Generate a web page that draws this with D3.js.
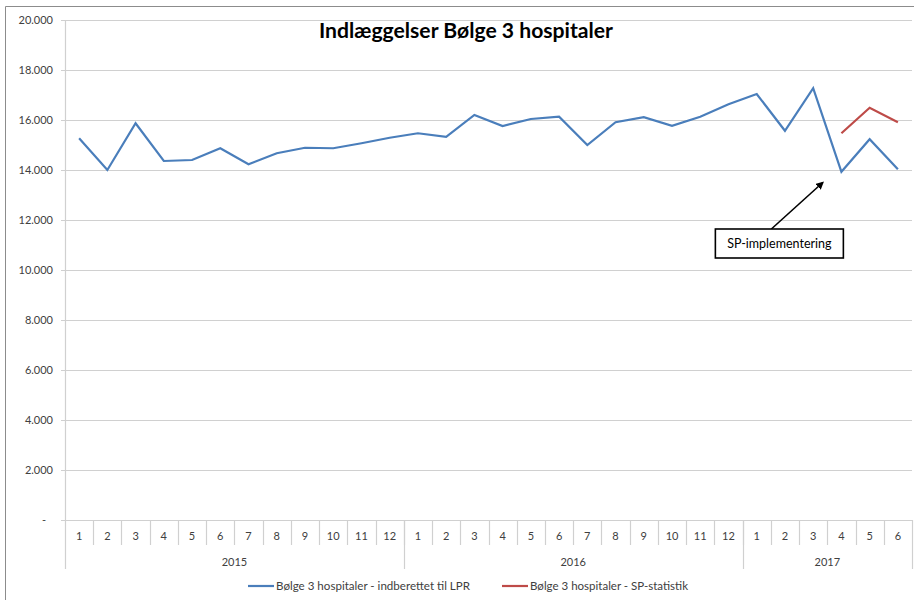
<!DOCTYPE html>
<html>
<head>
<meta charset="utf-8">
<script src="https://cdn.jsdelivr.net/npm/d3@7"></script>
<style>
  body { margin: 0; background: #fff; }
  text { font-family: Lato, "Open Sans", sans-serif; fill: #404040; }
</style>
</head>
<body>
<script>
const title = 'Indlæggelser Bølge 3 hospitaler';

const years = ['2015', '2016', '2017'];
const months = [
  ['1', '2', '3', '4', '5', '6', '7', '8', '9', '10', '11', '12'],
  ['1', '2', '3', '4', '5', '6', '7', '8', '9', '10', '11', '12'],
  ['1', '2', '3', '4', '5', '6']
];

// indberettet til LPR
const lprValues = [
  15270, 14000, 15870, 14360, 14400, 14870, 14230, 14670, 14890, 14870, 15070, 15290,
  15470, 15330, 16200, 15760, 16040, 16130, 15000, 15910, 16110, 15770, 16130, 16630,
  17040, 15570, 17270, 13930, 15230, 14030
];

// SP-statistik (only 2017-4 .. 2017-6)
const spValues = [
  null, null, null, null, null, null, null, null, null, null, null, null,
  null, null, null, null, null, null, null, null, null, null, null, null,
  null, null, null, 15470, 16490, 15910
];

const yTicks = [0, 2000, 4000, 6000, 8000, 10000, 12000, 14000, 16000, 18000, 20000];

const seriesNames = [
  'Bølge 3 hospitaler - indberettet til LPR',
  'Bølge 3 hospitaler - SP-statistik'
];
const seriesColors = ['#4a7ebb', '#be4b48'];

const width = 914;
const height = 600;
const margin = { top: 20, right: 2, bottom: 80, left: 65 };

const svg = d3.select('body').append('svg')
  .attr('width', width)
  .attr('height', height);

// outer chart frame
svg.append('path')
  .attr('d', `M5.5,${height} V6.5 H${width}`)
  .attr('fill', 'none')
  .attr('stroke', '#8c8c8c')
  .attr('stroke-width', 1);

const cats = [];
months.forEach((ms, yi) => ms.forEach((m) => cats.push(`${years[yi]}-${m}`)));

const x = d3.scaleBand()
  .domain(cats)
  .range([margin.left, width - margin.right]);

const y = d3.scaleLinear()
  .domain([0, 20000])
  .range([height - margin.bottom, margin.top]);

const fmt = (v) => (v === 0 ? '-' : d3.format(',')(v).replace(/,/g, '.'));

// grid
svg.append('g')
  .selectAll('line')
  .data(yTicks)
  .enter().append('line')
    .attr('x1', margin.left - 4)
    .attr('x2', width - margin.right)
    .attr('y1', d => Math.round(y(d)) + 0.5)
    .attr('y2', d => Math.round(y(d)) + 0.5)
    .attr('stroke', '#d0d0d0')
    .attr('stroke-width', 1.2);

// y labels
svg.append('g')
  .selectAll('text')
  .data(yTicks)
  .enter().append('text')
    .attr('x', d => (d === 0 ? 46 : 53))
    .attr('y', d => y(d) + 4)
    .attr('text-anchor', 'end')
    .style('font-size', '11px')
    .text(fmt);

// category axis
const axisY = y(0);
const catBottom = axisY + 25;
const yearBottom = axisY + 49;

svg.append('line')
  .attr('x1', margin.left + 0.5).attr('x2', margin.left + 0.5)
  .attr('y1', margin.top).attr('y2', yearBottom)
  .attr('stroke', '#d0d0d0').attr('stroke-width', 1.2);

svg.append('g')
  .selectAll('line')
  .data(cats.slice(1))
  .enter().append('line')
    .attr('x1', d => Math.round(x(d)) + 0.5)
    .attr('x2', d => Math.round(x(d)) + 0.5)
    .attr('y1', axisY)
    .attr('y2', catBottom)
    .attr('stroke', '#d0d0d0')
    .attr('stroke-width', 1.2);

svg.append('line')
  .attr('x1', width - margin.right + 0.5).attr('x2', width - margin.right + 0.5)
  .attr('y1', axisY).attr('y2', yearBottom)
  .attr('stroke', '#d0d0d0').attr('stroke-width', 1.2);

svg.append('g')
  .selectAll('text')
  .data(cats)
  .enter().append('text')
    .attr('x', d => x(d) + x.bandwidth() / 2)
    .attr('y', axisY + 20)
    .attr('text-anchor', 'middle')
    .style('font-size', '11px')
    .text(d => d.split('-')[1]);

// year groups
let start = 0;
years.forEach((yr, yi) => {
  const first = cats[start];
  const last = cats[start + months[yi].length - 1];
  const x0 = x(first);
  const x1 = x(last) + x.bandwidth();
  if (yi > 0) {
    svg.append('line')
      .attr('x1', Math.round(x0) + 0.5).attr('x2', Math.round(x0) + 0.5)
      .attr('y1', axisY).attr('y2', yearBottom)
      .attr('stroke', '#d0d0d0').attr('stroke-width', 1.2);
  }
  svg.append('text')
    .attr('x', (x0 + x1) / 2)
    .attr('y', axisY + 46)
    .attr('text-anchor', 'middle')
    .style('font-size', '11px')
    .text(yr);
  start += months[yi].length;
});

// lines
const line = d3.line()
  .defined(d => d.v !== null)
  .x(d => x(d.c) + x.bandwidth() / 2)
  .y(d => y(d.v));

[lprValues, spValues].forEach((vals, i) => {
  svg.append('path')
    .datum(vals.map((v, k) => ({ c: cats[k], v })))
    .attr('d', line)
    .attr('fill', 'none')
    .attr('stroke', seriesColors[i])
    .attr('stroke-width', 2.2)
    .attr('stroke-linejoin', 'miter');
});

// title
svg.append('text')
  .attr('x', 466)
  .attr('y', 38)
  .attr('text-anchor', 'middle')
  .attr('textLength', 294)
  .attr('lengthAdjust', 'spacingAndGlyphs')
  .style('font-size', '20px')
  .style('font-weight', 'bold')
  .style('fill', '#000')
  .text(title);

// annotation
const annCat = '2017-3';
const tipX = x(annCat) + x.bandwidth() * 0.84;
const tipY = y(13500);
const boxX = x('2016-12') + 1;
const boxY = y(11640);
const boxW = 128;
const boxH = 29;
const tailX = boxX + 56;

svg.append('defs').append('marker')
  .attr('id', 'arrow')
  .attr('viewBox', '0 0 10 10')
  .attr('refX', 8).attr('refY', 5)
  .attr('markerWidth', 5).attr('markerHeight', 5)
  .attr('orient', 'auto')
  .append('path')
    .attr('d', 'M0,0 L10,5 L0,10 z')
    .attr('fill', '#000');

svg.append('line')
  .attr('x1', tailX).attr('y1', boxY)
  .attr('x2', tipX).attr('y2', tipY)
  .attr('stroke', '#000')
  .attr('stroke-width', 1.6)
  .attr('marker-end', 'url(#arrow)');

svg.append('rect')
  .attr('x', boxX).attr('y', boxY)
  .attr('width', boxW).attr('height', boxH)
  .attr('fill', '#fff')
  .attr('stroke', '#000')
  .attr('stroke-width', 1.6);

svg.append('text')
  .attr('x', boxX + boxW / 2)
  .attr('y', boxY + 19)
  .attr('text-anchor', 'middle')
  .style('font-size', '12.5px')
  .style('fill', '#000')
  .text('SP-implementering');

// legend
const legendX = [248, 502];
const legendW = [194, 158];
seriesNames.forEach((name, i) => {
  const g = svg.append('g').attr('transform', `translate(${legendX[i]},586)`);
  g.append('line')
    .attr('x1', 0).attr('x2', 26)
    .attr('stroke', seriesColors[i])
    .attr('stroke-width', 2.2);
  g.append('text')
    .attr('x', 28)
    .attr('y', 4)
    .attr('textLength', legendW[i])
    .attr('lengthAdjust', 'spacingAndGlyphs')
    .style('font-size', '11px')
    .text(name);
});
</script>
</body>
</html>
